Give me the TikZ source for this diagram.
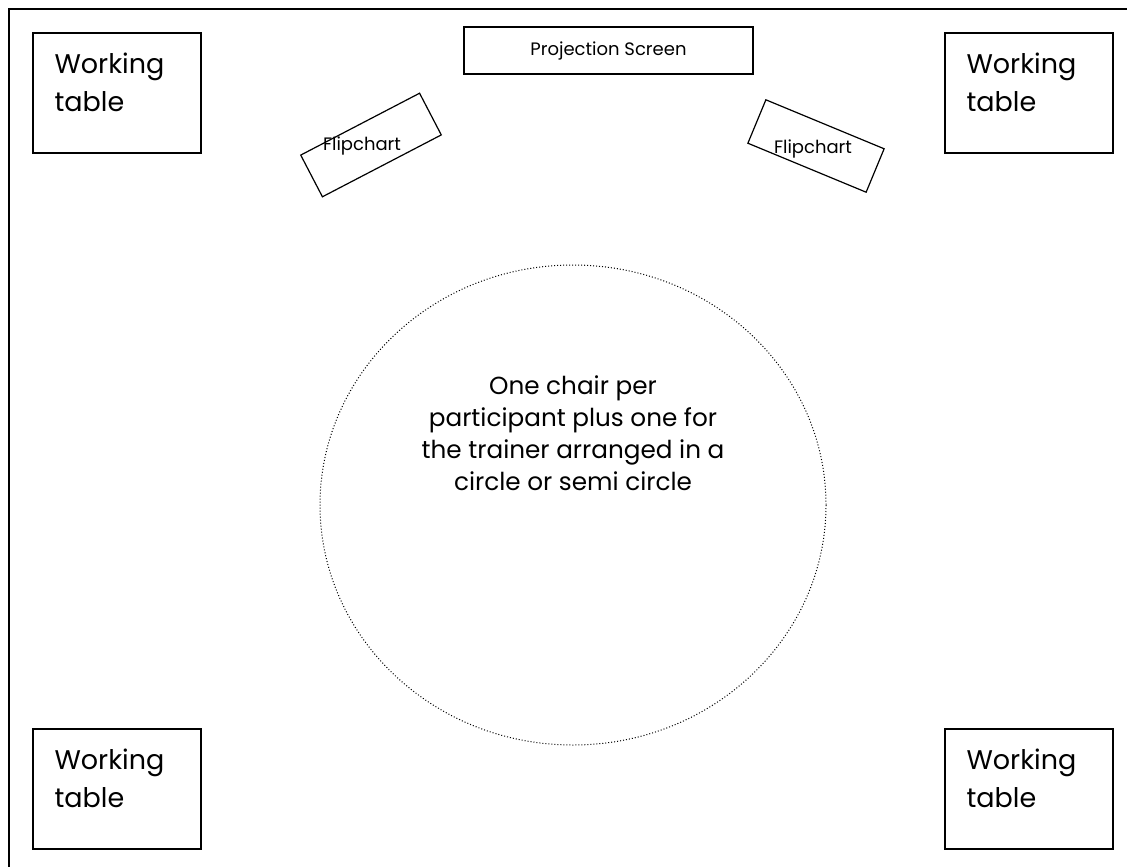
\documentclass[tikz,border=0pt]{standalone}
\usepackage{fontspec}
\setmainfont{Poppins}
\begin{document}
\begin{tikzpicture}[x=1pt,y=-1pt,
  wall/.style={draw,line width=1.3pt},
  tablebox/.style={draw,line width=1.3pt,minimum width=168pt,minimum height=120pt,inner sep=0pt},
  tabletext/.style={anchor=north west,align=left,font=\fontsize{27}{38}\selectfont,inner sep=0pt},
  flipbox/.style={draw,line width=1.2pt,minimum width=134pt,minimum height=47pt,inner sep=0pt},
  fliptext/.style={font=\fontsize{18}{20}\selectfont,inner sep=0pt},
  screenbox/.style={draw,line width=1.2pt,minimum width=289pt,minimum height=47pt,inner sep=0pt,font=\fontsize{18}{20}\selectfont},
  chairs/.style={draw,line width=1pt,dash pattern=on 1pt off 2pt},
  circletext/.style={align=center,font=\fontsize{24.7}{32}\selectfont,inner sep=0pt}
]
\useasboundingbox (0,0) rectangle (1127,867);
\draw[wall] (9,9) rectangle (1140,880);
% working tables
\node[tablebox] (tl) at (117,93) {};
\node[tablebox] (tr) at (1029,93) {};
\node[tablebox] (bl) at (117,789) {};
\node[tablebox] (br) at (1029,789) {};
\node[tabletext] (tlt) at ([shift={(22,20)}]tl.north west) {Working\\table};
\node[tabletext] (trt) at ([shift={(22,20)}]tr.north west) {Working\\table};
\node[tabletext] (blt) at ([shift={(22,20)}]bl.north west) {Working\\table};
\node[tabletext] (brt) at ([shift={(22,20)}]br.north west) {Working\\table};
% projection screen
\node[screenbox] (screen) at (608.5,50.5) {Projection Screen};
% flipcharts
\node[flipbox,rotate=27.5] (fl) at (371,145) {};
\node[fliptext] (flt) at (362,146) {Flipchart};
\node[flipbox,rotate=-22.5,minimum width=128pt] (fr) at (816,146) {};
\node[fliptext] (frt) at (813,149) {Flipchart};
% chairs circle
\draw[chairs] (573,505) ellipse [x radius=253, y radius=240];
\node[circletext] (ct) at (573,433) {One chair per\\participant plus one for\\the trainer arranged in a\\circle or semi circle};
\end{tikzpicture}
\end{document}
